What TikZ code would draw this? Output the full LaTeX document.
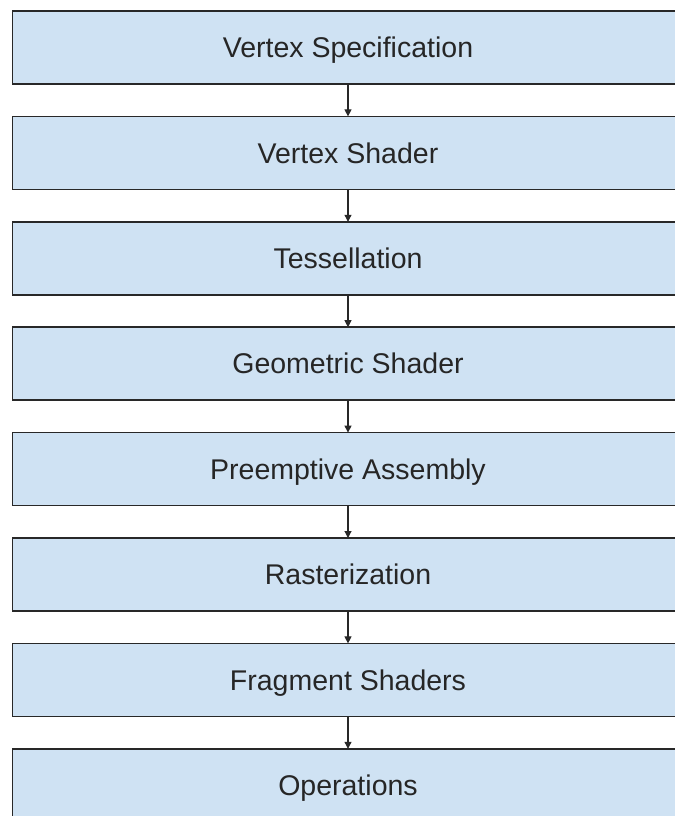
\documentclass[tikz,border=0pt]{standalone}
\usepackage{fontspec}
\setmainfont{Liberation Sans}
\usepackage{xcolor}
\usepackage{tikz}
\usetikzlibrary{arrows.meta,positioning}
\definecolor{boxblue} {RGB}{207,226,243}
\definecolor{edgegray}{RGB}{40,40,40}
\tikzset{
  % Pipeline stage box
  stagebox/.style={rectangle, draw=edgegray, line width=1.6bp, fill=boxblue,
                   minimum width=671bp, minimum height=73bp, inner sep=0pt,
                   outer sep=0pt, text height=20.4bp, text depth=0pt,
                   font=\fontsize{28.5bp}{34bp}\selectfont, text=black!85},
  % Arrows between stages
  arr/.style={-{Triangle[length=7bp,width=7bp]}, line width=1.1bp, draw=edgegray},
}

\begin{document}
\begin{tikzpicture}[x=1bp,y=1bp,node distance=32.4bp]

    % ── Frame of the picture ───────────────────────────────
    \clip (0,0) rectangle (675,816);

    % ── Pipeline stages ────────────────────────────────────
    \node[stagebox] (vspec) at (348,768.5) {Vertex Specification};
    \node[stagebox, below=of vspec] (vshad) {Vertex Shader};
    \node[stagebox, below=of vshad] (tess)  {Tessellation};
    \node[stagebox, below=of tess]  (gshad) {Geometric Shader};
    \node[stagebox, below=of gshad] (passm) {Preemptive Assembly};
    \node[stagebox, below=of passm] (rast)  {Rasterization};
    \node[stagebox, below=of rast]  (fshad) {Fragment Shaders};
    \node[stagebox, below=of fshad] (ops)   {Operations};

    % ── Arrows ─────────────────────────────────────────────
    \draw[arr] (vspec) -- (vshad);
    \draw[arr] (vshad) -- (tess);
    \draw[arr] (tess)  -- (gshad);
    \draw[arr] (gshad) -- (passm);
    \draw[arr] (passm) -- (rast);
    \draw[arr] (rast)  -- (fshad);
    \draw[arr] (fshad) -- (ops);

\end{tikzpicture}
\end{document}
